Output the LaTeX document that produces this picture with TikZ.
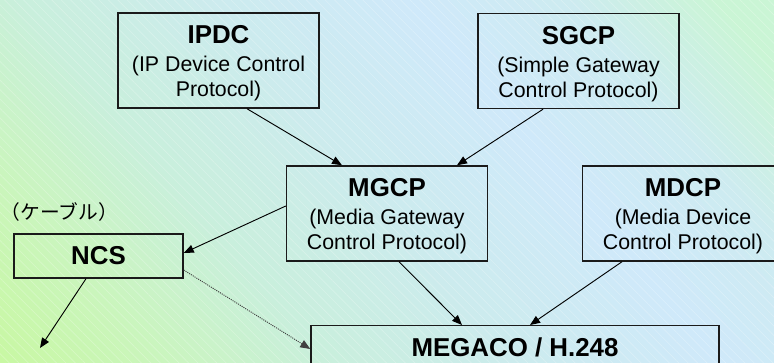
\documentclass[tikz,border=0pt]{standalone}
\usepackage{fontspec}
\setmainfont{Liberation Sans}
\newfontfamily\jpfont{Noto Sans CJK JP}
\usetikzlibrary{arrows.meta,calc,patterns.meta}
\definecolor{bgA}{HTML}{C8F8A0}
\definecolor{bgB}{HTML}{CAF5BE}
\definecolor{bgC}{HTML}{C9EFDC}
\definecolor{bgD}{HTML}{CCEBEE}
\definecolor{bgE}{HTML}{CFE9FA}
\definecolor{bgF}{HTML}{CDEBF0}
\definecolor{bgG}{HTML}{CAF5D5}
\definecolor{edge}{HTML}{1A1A1A}
\pgfdeclareverticalshading{bgshade}{100bp}{color(0bp)=(bgA); color(36.75bp)=(bgA); color(41.1bp)=(bgB); color(44.9bp)=(bgC); color(49.6bp)=(bgD); color(54.25bp)=(bgE); color(58bp)=(bgF); color(61.5bp)=(bgG); color(100bp)=(bgG)}
\newcommand\titlef{\fontsize{19.4}{22}\bfseries\selectfont}
\newcommand\bodyf{\fontsize{16}{18.75}\selectfont}
\newcommand\tstrut{\rule{0pt}{17.7pt}}
\tikzset{
  box/.style={draw=edge, line width=1.1pt, minimum width=150.75pt, minimum height=71.25pt, align=center, inner sep=0pt, font=\bodyf},
  conn/.style={-{Triangle[length=7.5pt,width=6pt]}, line width=0.7pt, draw=black},
  dotconn/.style={conn, draw=black!75, dash pattern=on 0.8pt off 0.8pt},
}
\begin{document}
\begin{tikzpicture}[x=0.75pt,y=-0.75pt]
\useasboundingbox (0,0) rectangle (774,363);
\clip (0,0) rectangle (774,363);
\coordinate (C) at (387,181.5);
\begin{scope}[transform canvas={rotate around={-49.5:(C)}}]
  \shade[shading=bgshade] ($(C)+(-700pt,-600pt)$) rectangle ($(C)+(700pt,600pt)$);
\end{scope}
\fill[pattern={Lines[angle=-45,distance=5pt,line width=0.5pt]}, pattern color=white, opacity=0.25] (0,0) rectangle (774,363);

\node[box] (ipdc) at (218.5,60.5) {{\titlef\tstrut IPDC}\\[2.2pt](IP Device Control\\Protocol)};
\node[box] (sgcp) at (578.5,61) {{\titlef\tstrut SGCP}\\[2.2pt](Simple Gateway\\Control Protocol)};
\node[box] (mgcp) at (387,213.5) {{\titlef\tstrut MGCP}\\[2.2pt](Media Gateway\\Control Protocol)};
\node[box] (mdcp) at (683,213.5) {{\titlef\tstrut MDCP}\\[2.2pt](Media Device\\Control Protocol)};
\node[box, minimum width=126.75pt, minimum height=33pt, font=\titlef] (ncs) at (98.5,256) {NCS};
\node[draw=edge, line width=1.1pt, anchor=north, minimum width=306pt, inner xsep=0pt, inner ysep=9pt, text height=14.25pt, text depth=40pt, font=\titlef] (megaco) at (515,325) {MEGACO / H.248};
\node[font=\jpfont\fontsize{14.8}{16}\selectfont, inner sep=0pt] (jp) at (59.5,212) {（ケーブル）};
\coordinate (out) at (40,348);

\draw[conn] ($(ipdc.south)+(28.5,0)$) -- ($(mgcp.north)+(-45,0)$);
\draw[conn] ($(sgcp.south)+(-35.5,0)$) -- ($(mgcp.north)+(70,0)$);
\draw[conn] ($(mgcp.south)+(12,0)$) -- ($(megaco.north)+(-53,0)$);
\draw[conn] ($(mdcp.south)+(-61,0)$) -- ($(megaco.north)+(15,0)$);
\draw[conn] ($(mgcp.west)+(0,-7.5)$) -- ($(ncs.east)+(0,-3)$);
\draw[dotconn] ($(ncs.east)+(0,14)$) -- ($(megaco.north west)+(0,24)$);
\draw[conn] ($(ncs.south)+(-12.5,0)$) -- (out);
\end{tikzpicture}
\end{document}
